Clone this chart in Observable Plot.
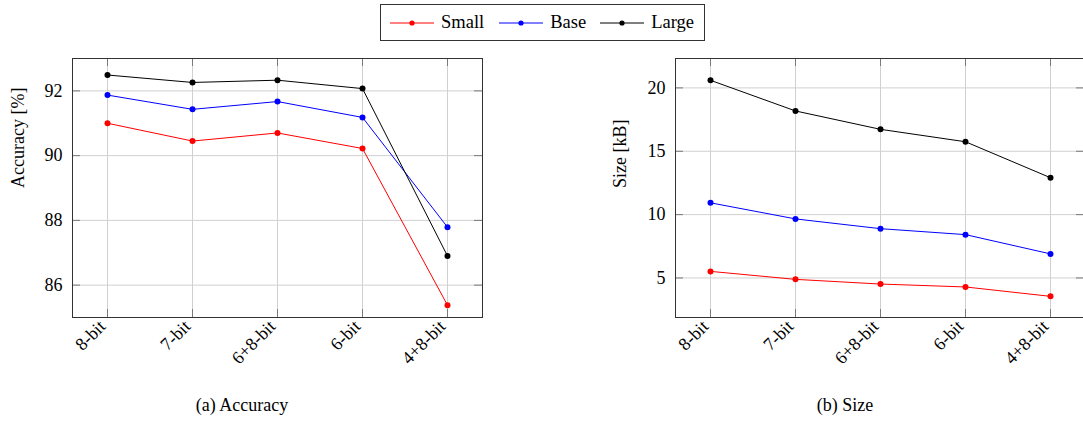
<!DOCTYPE html>
<html><head><meta charset="utf-8">
<script src="https://cdn.jsdelivr.net/npm/d3@7"></script>
<script src="https://cdn.jsdelivr.net/npm/@observablehq/plot@0.6"></script>
<style>
html,body{margin:0;padding:0;background:#fff;overflow:hidden;}
#root{position:relative;width:1083px;height:421px;overflow:hidden;font-family:"Liberation Serif","Times New Roman",serif;color:#000;}
.panel{position:absolute;top:0;}
#legend{position:absolute;left:380px;top:4px;width:323px;height:35px;border:1px solid #333;display:flex;align-items:center;font-size:18.5px;box-sizing:content-box;}
.item{display:flex;align-items:center;}
.caption{position:absolute;top:395px;font-size:18px;transform:translateX(-50%);white-space:nowrap;}
</style></head><body><div id="root"></div>
<script>
const categories = ["8-bit", "7-bit", "6+8-bit", "6-bit", "4+8-bit"];
const seriesNames = ["Small", "Base", "Large"];
const seriesColors = ["#ff0000", "#0000ff", "#000000"];

const accSmall = [91.0, 90.45, 90.7, 90.22, 85.38];
const accBase  = [91.87, 91.43, 91.67, 91.18, 87.79];
const accLarge = [92.49, 92.26, 92.33, 92.07, 86.9];

const sizeSmall = [5.52, 4.89, 4.52, 4.29, 3.55];
const sizeBase  = [10.93, 9.66, 8.89, 8.42, 6.9];
const sizeLarge = [20.6, 18.18, 16.73, 15.75, 12.91];

const accTicks = [86, 88, 90, 92];
const sizeTicks = [5, 10, 15, 20];
const accDomain = [85, 93];
const sizeDomain = [1.88, 22.32];

function panel({series, domain, ticks, label, width, height, mL, mR, mT, mB, labelX}) {
  const data = [];
  series.forEach((arr, si) => arr.forEach((v, i) => data.push({cat: categories[i], value: v, series: seriesNames[si]})));
  const fw = width - mL - mR, fh = height - mT - mB;
  const tk = 8;
  return Plot.plot({
    width, height, marginLeft: mL, marginRight: mR, marginTop: mT, marginBottom: mB,
    style: {fontFamily: "'Liberation Serif', serif", fontSize: "18px", background: "transparent", overflow: "visible", color: "#000"},
    x: {type: "point", domain: categories, padding: 0.4},
    y: {domain, ticks},
    color: {domain: seriesNames, range: seriesColors},
    marks: [
      Plot.gridX(categories, {stroke: "#d0d0d0", strokeOpacity: 1}),
      Plot.gridY(ticks, {stroke: "#d0d0d0", strokeOpacity: 1}),
      Plot.tickX(categories, {x: d => d, stroke: "#7a7a7a", insetTop: fh - tk}),
      Plot.tickX(categories, {x: d => d, stroke: "#7a7a7a", insetBottom: fh - tk}),
      Plot.tickY(ticks, {y: d => d, stroke: "#7a7a7a", insetRight: fw - tk}),
      Plot.tickY(ticks, {y: d => d, stroke: "#7a7a7a", insetLeft: fw - tk}),
      Plot.frame({stroke: "#333", strokeWidth: 1}),
      Plot.axisX({tickRotate: -45, tickSize: 0, tickPadding: 5, dx: -5, dy: 1, label: null, fontSize: 18}),
      Plot.axisY(ticks, {tickSize: 0, tickPadding: 10, label: null, fontSize: 18}),
      Plot.text([label], {text: d => d, frameAnchor: "left", dx: -(mL - labelX), rotate: -90, fontSize: 18}),
      Plot.line(data, {x: "cat", y: "value", z: "series", stroke: "series", strokeWidth: 1}),
      Plot.dot(data, {x: "cat", y: "value", fill: "series", r: 3})
    ]
  });
}

const root = document.getElementById("root");

const left = panel({series: [accSmall, accBase, accLarge], domain: accDomain, ticks: accTicks,
  label: "Accuracy [%]", width: 541, height: 380, mL: 72, mR: 59, mT: 58, mB: 63, labelX: 17.5});
left.classList.add("panel"); left.style.left = "0px";
root.appendChild(left);

const right = panel({series: [sizeSmall, sizeBase, sizeLarge], domain: sizeDomain, ticks: sizeTicks,
  label: "Size [kB]", width: 600, height: 380, mL: 134, mR: 57, mT: 58, mB: 63, labelX: 79});
right.classList.add("panel"); right.style.left = "541px";
root.appendChild(right);

// legend
const legend = document.createElement("div");
legend.id = "legend";
const gaps = [9, 15, 14];
seriesNames.forEach((name, i) => {
  const item = document.createElement("div");
  item.className = "item";
  item.style.marginLeft = gaps[i] + "px";
  item.innerHTML = `<svg width="44" height="10" style="margin-right:7px"><line x1="0" x2="44" y1="5" y2="5" stroke="${seriesColors[i]}" stroke-width="1"/><circle cx="22" cy="5" r="2.6" fill="${seriesColors[i]}"/></svg><span>${name}</span>`;
  legend.appendChild(item);
});
root.appendChild(legend);

// captions
[["(a) Accuracy", 242], ["(b) Size", 845]].forEach(([t, x]) => {
  const c = document.createElement("div");
  c.className = "caption";
  c.style.left = x + "px";
  c.textContent = t;
  root.appendChild(c);
});
</script></body></html>
